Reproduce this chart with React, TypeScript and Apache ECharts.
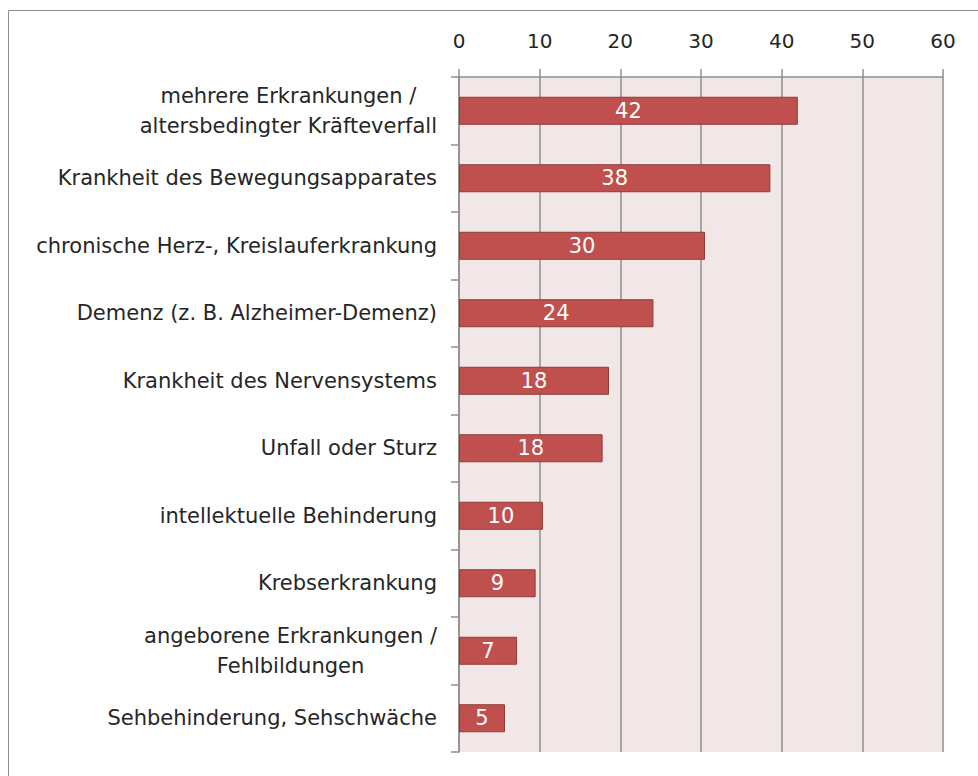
import React, { useEffect, useRef } from "react";
import * as echarts from "echarts";

const categories = [
  "mehrere Erkrankungen /\naltersbedingter Kräfteverfall",
  "Krankheit des Bewegungsapparates",
  "chronische Herz-, Kreislauferkrankung",
  "Demenz (z. B. Alzheimer-Demenz)",
  "Krankheit des Nervensystems",
  "Unfall oder Sturz",
  "intellektuelle Behinderung",
  "Krebserkrankung",
  "angeborene Erkrankungen /\nFehlbildungen",
  "Sehbehinderung, Sehschwäche",
];
const values = [42, 38.6, 30.5, 24.1, 18.6, 17.8, 10.4, 9.5, 7.2, 5.7];
const valueLabels = ["42", "38", "30", "24", "18", "18", "10", "9", "7", "5"];
const xMin = 0;
const xMax = 60;
const xInterval = 10;

const FONT = "'DejaVu Sans', sans-serif";
const TEXT = "#262626";
const GRID_GRAY = "#8f8f8f";

export default function App() {
  const ref = useRef<HTMLDivElement>(null);
  useEffect(() => {
    document.body.style.margin = "0";
    if (!ref.current) return;
    const chart = echarts.init(ref.current, undefined, { renderer: "svg" });
    chart.setOption({
      animation: false,
      backgroundColor: "#ffffff",
      graphic: [
        {
          type: "line",
          shape: { x1: 8.5, y1: 10.5, x2: 978, y2: 10.5 },
          style: { stroke: "#8c8c8c", lineWidth: 1 },
          silent: true,
        },
        {
          type: "line",
          shape: { x1: 8.5, y1: 10.5, x2: 8.5, y2: 776 },
          style: { stroke: "#8c8c8c", lineWidth: 1 },
          silent: true,
        },
      ],
      grid: {
        left: 459,
        right: 35,
        top: 77,
        bottom: 24,
        show: true,
        backgroundColor: "#F2E7E7",
        borderWidth: 0,
      },
      xAxis: {
        type: "value",
        position: "top",
        min: xMin,
        max: xMax,
        interval: xInterval,
        axisLine: { show: true, lineStyle: { color: GRID_GRAY, width: 1.5 } },
        axisTick: { show: true, length: 8, lineStyle: { color: GRID_GRAY, width: 1.5 } },
        splitLine: { show: true, lineStyle: { color: GRID_GRAY, width: 1.5 } },
        axisLabel: {
          fontFamily: FONT,
          fontSize: 20,
          color: TEXT,
          margin: 26,
        },
      },
      yAxis: {
        type: "category",
        data: categories,
        inverse: true,
        axisLine: { show: true, lineStyle: { color: GRID_GRAY, width: 1.5 } },
        axisTick: { show: true, length: 8, lineStyle: { color: GRID_GRAY, width: 1.5 } },
        axisLabel: {
          margin: 22,
          align: "right",
          fontFamily: FONT,
          fontSize: 21,
          color: TEXT,
          lineHeight: 30,
          formatter: (v: string) =>
            v
              .split("\n")
              .map((l) => `{c|${l}}`)
              .join("\n"),
          rich: {
            c: {
              align: "center",
              fontFamily: FONT,
              fontSize: 21,
              color: TEXT,
              lineHeight: 30,
            },
          },
        },
      },
      series: [
        {
          type: "bar",
          data: values,
          barWidth: 28,
          itemStyle: {
            color: "#C0504D",
            borderColor: "#8E3A38",
            borderWidth: 1,
          },
          label: {
            show: true,
            position: "inside",
            color: "#ffffff",
            fontFamily: FONT,
            fontSize: 21,
            formatter: (p: any) => valueLabels[p.dataIndex],
          },
        },
      ],
    });
    return () => chart.dispose();
  }, []);
  return <div ref={ref} style={{ width: 978, height: 776, overflow: "hidden" }} />;
}
